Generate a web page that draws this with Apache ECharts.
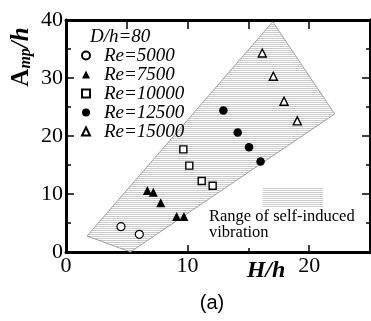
<!DOCTYPE html>
<html><head><meta charset="utf-8">
<script src="https://cdn.jsdelivr.net/npm/echarts@6/dist/echarts.min.js"></script>
<style>html,body{margin:0;padding:0;background:#fff}#c{width:371px;height:321px}</style>
</head><body><div id="c"></div>
<script>
// ---- data ----
const re5000X = [4.52, 6.03];
const re5000Y = [4.36, 3.05];
const re7500X = [6.69, 7.18, 7.79, 9.10, 9.70];
const re7500Y = [10.6, 10.3, 8.5, 6.1, 6.1];
const re10000X = [9.65, 10.14, 11.16, 12.06];
const re10000Y = [17.7, 14.9, 12.24, 11.43];
const re12500X = [12.94, 14.12, 15.05, 16.0];
const re12500Y = [24.4, 20.6, 18.05, 15.6];
const re15000X = [16.14, 17.05, 17.93, 19.02];
const re15000Y = [34.3, 30.3, 26.0, 22.6];
// polygon of range of self-induced vibration
const regionX = [1.73, 5.3, 22.1, 17.0];
const regionY = [2.76, 0.0, 23.8, 39.7];
const seriesNames = ['Re=5000', 'Re=7500', 'Re=10000', 'Re=12500', 'Re=15000'];
const xMin = 0, xMax = 25, yMin = 0, yMax = 40;

const zip = (xs, ys) => xs.map((x, i) => [x, ys[i]]);

// hatch pattern (horizontal thin gray lines)
const pat = document.createElement('canvas');
pat.width = 4; pat.height = 2;
const g = pat.getContext('2d');
g.fillStyle = '#ffffff'; g.fillRect(0, 0, 4, 2);
g.fillStyle = '#cacaca'; g.fillRect(0, 0, 4, 1);
const hatch = { image: pat, repeat: 'repeat' };

const serif = 'Liberation Serif';
const chart = echarts.init(document.getElementById('c'), null, { renderer: 'canvas' });

const axisLine = { show: true, onZero: false, lineStyle: { color: '#000', width: 3 } };
const tickStyle = { color: '#000', width: 1.5 };

const option = {
  animation: false,
  backgroundColor: '#fff',
  grid: { left: 66, right: 1, top: 20, bottom: 69, containLabel: false },
  xAxis: [
    { type: 'value', min: xMin, max: xMax, interval: 10, position: 'bottom',
      axisLine, axisTick: { inside: true, length: 7, lineStyle: tickStyle },
      minorTick: { show: true, splitNumber: 2, length: 4, lineStyle: tickStyle },
      splitLine: { show: false }, minorSplitLine: { show: false },
      axisLabel: { fontFamily: serif, fontSize: 22, color: '#000', margin: 3, showMaxLabel: false } },
    { type: 'value', min: xMin, max: xMax, interval: 5, position: 'top',
      axisLine, axisTick: { inside: true, length: 9, lineStyle: tickStyle },
      splitLine: { show: false }, axisLabel: { show: false } }
  ],
  yAxis: [
    { type: 'value', min: yMin, max: yMax, interval: 10, position: 'left',
      axisLine, axisTick: { inside: true, length: 8, lineStyle: tickStyle },
      minorTick: { show: true, splitNumber: 2, length: 5, lineStyle: tickStyle },
      splitLine: { show: false }, minorSplitLine: { show: false },
      axisLabel: { fontFamily: serif, fontSize: 22, color: '#000', margin: 3 } },
    { type: 'value', min: yMin, max: yMax, interval: 10, position: 'right',
      axisLine, axisTick: { inside: true, length: 8, lineStyle: tickStyle },
      minorTick: { show: true, splitNumber: 2, length: 4, lineStyle: tickStyle },
      splitLine: { show: false }, minorSplitLine: { show: false },
      axisLabel: { show: false } }
  ],
  legend: {
    orient: 'vertical', left: 76, top: 41, itemGap: 0,
    itemWidth: 8, itemHeight: 8,
    data: seriesNames,
    textStyle: { fontFamily: serif, fontStyle: 'italic', fontSize: 19, lineHeight: 18.6,
                 color: '#000', padding: [0, 0, 0, 9] },
    selectedMode: false
  },
  graphic: [
    { type: 'text', x: 90, y: 37, style: { text: 'D/h=80', fontFamily: serif, fontStyle: 'italic',
      fontSize: 19, fill: '#000', textAlign: 'left', textVerticalAlign: 'middle' } },
    { type: 'text', x: 20, y: 57, rotation: Math.PI / 2,
      style: { text: '{a|A}{s|mp}{b|/h}', textAlign: 'center', textVerticalAlign: 'middle',
        rich: {
          a: { fontFamily: serif, fontWeight: 'bold', fontSize: 25, fill: '#000', verticalAlign: 'bottom', lineHeight: 28 },
          s: { fontFamily: serif, fontWeight: 'bold', fontStyle: 'italic', fontSize: 16, fill: '#000', verticalAlign: 'bottom', lineHeight: 22 },
          b: { fontFamily: serif, fontWeight: 'bold', fontStyle: 'italic', fontSize: 25, fill: '#000', verticalAlign: 'bottom', lineHeight: 28 }
        } } },
    { type: 'text', x: 266, y: 271, style: { text: 'H/h', fontFamily: serif, fontWeight: 'bold',
      fontStyle: 'italic', fontSize: 24, fill: '#000', textAlign: 'center', textVerticalAlign: 'middle' } },
    { type: 'text', x: 212, y: 303, style: { text: '(a)', fontFamily: 'Liberation Sans',
      fontSize: 20, fill: '#000', textAlign: 'center', textVerticalAlign: 'middle' } },
    { type: 'rect', shape: { x: 263, y: 188, width: 60, height: 19 }, style: { fill: hatch } },
    { type: 'text', x: 209, y: 225, style: { text: 'Range of self-induced\nvibration', fontFamily: serif,
      fontSize: 16.5, lineHeight: 16, fill: '#000', textAlign: 'left', textVerticalAlign: 'middle' } }
  ],
  series: [
    { type: 'custom', name: 'region', silent: true, z: 1, data: [[0, 0]],
      renderItem: (params, api) => {
        const pts = regionX.map((x, i) => api.coord([x, regionY[i]]));
        return { type: 'polygon', shape: { points: pts },
          style: { fill: hatch, stroke: '#8a8a8a', lineWidth: 0.8 } };
      } },
    { type: 'scatter', name: seriesNames[0], z: 5, data: zip(re5000X, re5000Y), symbol: 'circle', symbolSize: 8,
      itemStyle: { color: '#fff', borderColor: '#000', borderWidth: 1.2, opacity: 1 } },
    { type: 'scatter', name: seriesNames[1], z: 5, data: zip(re7500X, re7500Y), symbol: 'triangle', symbolSize: 9,
      itemStyle: { color: '#000', opacity: 1 } },
    { type: 'scatter', name: seriesNames[2], z: 5, data: zip(re10000X, re10000Y), symbol: 'rect', symbolSize: 7,
      itemStyle: { color: '#fff', borderColor: '#000', borderWidth: 1.4, opacity: 1 } },
    { type: 'scatter', name: seriesNames[3], z: 5, data: zip(re12500X, re12500Y), symbol: 'circle', symbolSize: 8.5,
      itemStyle: { color: '#000', opacity: 1 } },
    { type: 'scatter', name: seriesNames[4], z: 5, data: zip(re15000X, re15000Y), symbol: 'triangle', symbolSize: 8,
      itemStyle: { color: '#fff', borderColor: '#000', borderWidth: 1.4, opacity: 1 } }
  ]
};
chart.setOption(option);
</script>
</body></html>
